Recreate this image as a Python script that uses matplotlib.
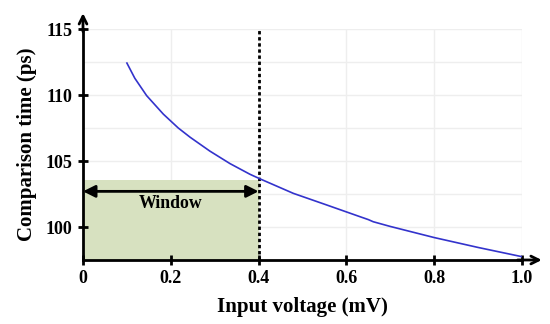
import matplotlib
matplotlib.use("Agg")
import matplotlib.pyplot as plt
import numpy as np

# Data
voltage = [0.1, 0.118, 0.145, 0.183, 0.217, 0.244, 0.289, 0.335, 0.38, 0.403,
           0.479, 0.555, 0.631, 0.65, 0.661, 0.699, 0.8, 0.9, 1.0]
comp_time = [112.42, 111.27, 109.95, 108.55, 107.5, 106.8, 105.75, 104.8, 104.0, 103.65,
             102.55, 101.67, 100.78, 100.56, 100.4, 100.05, 99.2, 98.45, 97.75]
x_ticks = [0, 0.2, 0.4, 0.6, 0.8, 1.0]
x_tick_labels = ["0", "0.2", "0.4", "0.6", "0.8", "1.0"]
y_ticks = [100, 105, 110, 115]
window_x = [0.0, 0.4]
window_top = 103.55
window_arrow_y = 102.7
window_label = "Window"

plt.rcParams['font.family'] = ['Liberation Serif', 'DejaVu Serif']
plt.rcParams['font.weight'] = 'bold'

fig = plt.figure(figsize=(5.5, 3.24), dpi=100)
ax = fig.add_axes([83/550, 1-260/324, 439/550, 231/324])
ymin, ymax = 97.5, 115
ax.set_xlim(0, 1.0)
ax.set_ylim(ymin, ymax)

# grid
for gx in np.arange(0.2, 1.01, 0.2):
    ax.axvline(gx, color='#eeeeee', lw=1, zorder=0)
for gy in np.arange(100, 115.1, 2.5):
    ax.axhline(gy, color='#eeeeee', lw=1, zorder=0)

# window rectangle
ax.fill_between(window_x, ymin, window_top, color='#d7e1c0', zorder=1, lw=0)
ax.annotate('', xy=(window_x[0], window_arrow_y), xytext=(window_x[1], window_arrow_y),
            arrowprops=dict(arrowstyle='<|-|>', color='black', lw=2, mutation_scale=18,
                            shrinkA=0, shrinkB=0), zorder=3)
ax.text((window_x[0]+window_x[1])/2, 101.75, window_label, ha='center', va='center',
        fontsize=12.8, fontweight='bold', zorder=3)

# dotted line
ax.plot([0.4, 0.4], [ymin, ymax], color='black', lw=2, ls=(0, (1.2, 1.0)), zorder=2)

# curve
ax.plot(voltage, comp_time, color='#3333cc', lw=1.2, zorder=4)

# spines
for s in ['top', 'right']:
    ax.spines[s].set_visible(False)
for s in ['left', 'bottom']:
    ax.spines[s].set_linewidth(2)
    ax.spines[s].set_zorder(5)

# arrows on axes
ax.annotate('', xy=(1.045, ymin), xytext=(0.99, ymin), xycoords='data',
            arrowprops=dict(arrowstyle='->', color='black', lw=2, mutation_scale=14,
                            shrinkA=0, shrinkB=0), annotation_clip=False)
ax.annotate('', xy=(0, 116.2), xytext=(0, 114.8), xycoords='data',
            arrowprops=dict(arrowstyle='->', color='black', lw=2, mutation_scale=14,
                            shrinkA=0, shrinkB=0), annotation_clip=False)

ax.set_xticks(x_ticks)
ax.set_xticklabels(x_tick_labels)
ax.set_yticks(y_ticks)
ax.tick_params(direction='inout', length=7, width=2, labelsize=13, pad=4)
for lab in ax.get_xticklabels() + ax.get_yticklabels():
    lab.set_fontweight('bold')

ax.set_xlabel('Input voltage (mV)', fontsize=15, fontweight='bold', labelpad=7)
ax.set_ylabel('Comparison time (ps)', fontsize=15, fontweight='bold', labelpad=6)

fig.savefig('out.png', dpi=100)
